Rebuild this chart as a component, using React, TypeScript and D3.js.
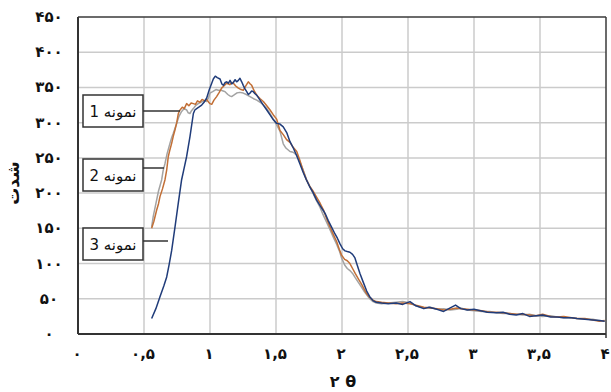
import React from "react";
import * as d3 from "d3";

const xTicks = [0, 0.5, 1, 1.5, 2, 2.5, 3, 3.5, 4];
const xTickLabels = ["۰", "۰,۵", "۱", "۱,۵", "۲", "۲,۵", "۳", "۳,۵", "۴"];
const yTicks = [0, 50, 100, 150, 200, 250, 300, 350, 400, 450];
const yTickLabels = ["۰", "۵۰", "۱۰۰", "۱۵۰", "۲۰۰", "۲۵۰", "۳۰۰", "۳۵۰", "۴۰۰", "۴۵۰"];
const xTitle = "۲ θ";
const yTitle = "شدت";
const seriesNames = ["نمونه 1", "نمونه 2", "نمونه 3"];

// sample 1 (orange)
const sample1: [number, number][] = [[0.558,150],[0.575,160],[0.596,176],[0.61,185],[0.621,195],[0.64,206],[0.659,219],[0.672,233],[0.684,252],[0.697,262],[0.71,271],[0.722,281],[0.735,290],[0.748,300],[0.76,313],[0.773,318],[0.79,322],[0.805,320],[0.823,327],[0.84,324],[0.857,328],[0.874,327],[0.89,326],[0.905,331],[0.924,329],[0.94,333],[0.96,331],[0.975,333],[0.99,329],[1.0,327],[1.013,326],[1.03,332],[1.05,337],[1.07,343],[1.088,349],[1.105,352],[1.126,356],[1.15,354],[1.165,357],[1.177,356],[1.195,352],[1.215,349],[1.235,347],[1.252,346],[1.27,352],[1.29,358],[1.305,355],[1.316,353],[1.335,345],[1.354,339],[1.38,334],[1.404,330],[1.43,324],[1.455,318],[1.48,311],[1.505,305],[1.53,289],[1.555,283],[1.58,276],[1.606,272],[1.63,265],[1.657,259],[1.68,247],[1.705,232],[1.73,219],[1.755,210],[1.78,203],[1.805,195],[1.833,186],[1.86,176],[1.885,163],[1.909,152],[1.935,141],[1.96,131],[1.98,120],[1.997,112],[2.02,106],[2.04,104],[2.06,100],[2.08,93],[2.1,86],[2.125,78],[2.15,70],[2.17,63],[2.187,57],[2.21,52],[2.235,48],[2.26,46],[2.3,45],[2.35,44],[2.41,43],[2.46,44],[2.515,43],[2.56,41],[2.62,38],[2.67,37],[2.72,36],[2.77,34],[2.82,35],[2.87,37],[2.9,36],[2.95,35],[3.0,34],[3.06,33],[3.12,31],[3.17,31],[3.22,30],[3.27,29],[3.32,28],[3.37,28],[3.42,27],[3.47,26],[3.52,28],[3.58,25],[3.63,24],[3.68,25],[3.74,23],[3.78,22],[3.84,22],[3.9,20],[3.95,18],[3.99,19]];

// sample 2 (gray)
const sample2: [number, number][] = [[0.558,152],[0.57,167],[0.59,185],[0.61,203],[0.634,219],[0.645,232],[0.659,242],[0.675,256],[0.697,271],[0.71,279],[0.722,285],[0.735,292],[0.748,299],[0.765,309],[0.785,316],[0.805,320],[0.823,318],[0.835,314],[0.848,313],[0.86,317],[0.874,320],[0.89,324],[0.911,327],[0.93,329],[0.955,331],[0.975,330],[0.99,336],[1.0,342],[1.02,344],[1.045,347],[1.063,346],[1.085,346],[1.1,345],[1.114,344],[1.135,340],[1.15,338],[1.164,337],[1.18,339],[1.202,342],[1.225,343],[1.252,342],[1.275,340],[1.303,337],[1.33,334],[1.354,332],[1.38,329],[1.404,325],[1.43,320],[1.455,313],[1.48,305],[1.505,297],[1.53,288],[1.555,270],[1.575,264],[1.606,259],[1.63,258],[1.657,254],[1.68,245],[1.705,233],[1.73,220],[1.755,210],[1.78,200],[1.805,190],[1.833,180],[1.86,168],[1.885,158],[1.909,148],[1.935,137],[1.96,127],[1.98,118],[1.997,108],[2.02,98],[2.04,93],[2.06,90],[2.08,86],[2.1,80],[2.125,73],[2.15,66],[2.17,60],[2.19,55],[2.21,50],[2.235,46],[2.26,44],[2.3,43],[2.35,44],[2.41,45],[2.46,46],[2.515,44],[2.56,40],[2.62,37],[2.67,38],[2.72,35],[2.77,36],[2.82,34],[2.87,35],[2.9,37],[2.95,34],[3.0,33],[3.06,32],[3.12,32],[3.17,30],[3.22,29],[3.27,29],[3.32,28],[3.37,27],[3.42,28],[3.47,26],[3.52,25],[3.58,26],[3.63,24],[3.68,23],[3.74,23],[3.78,22],[3.84,21],[3.9,21],[3.95,19],[3.99,18]];

// sample 3 (blue)
const sample3: [number, number][] = [[0.558,22],[0.59,36],[0.621,53],[0.65,68],[0.672,81],[0.69,98],[0.71,119],[0.735,152],[0.76,186],[0.785,219],[0.8,232],[0.823,252],[0.848,280],[0.874,313],[0.885,318],[0.899,320],[0.915,322],[0.937,325],[0.955,329],[0.975,335],[0.995,347],[1.013,356],[1.025,362],[1.04,366],[1.055,364],[1.076,362],[1.09,355],[1.101,353],[1.115,357],[1.126,358],[1.14,356],[1.152,360],[1.165,355],[1.177,357],[1.19,361],[1.202,358],[1.215,360],[1.227,363],[1.24,358],[1.252,353],[1.265,348],[1.278,344],[1.29,340],[1.303,342],[1.316,345],[1.328,344],[1.341,341],[1.354,339],[1.379,332],[1.404,325],[1.43,318],[1.455,311],[1.48,304],[1.505,299],[1.53,298],[1.555,294],[1.581,286],[1.606,273],[1.631,264],[1.657,253],[1.68,242],[1.707,229],[1.73,219],[1.758,208],[1.78,201],[1.808,190],[1.835,182],[1.859,175],[1.875,170],[1.896,161],[1.92,152],[1.947,142],[1.965,136],[1.985,128],[2.005,121],[2.023,118],[2.04,117],[2.06,116],[2.08,113],[2.098,108],[2.115,98],[2.136,86],[2.16,74],[2.187,61],[2.21,53],[2.237,47],[2.26,45],[2.3,44],[2.35,43],[2.41,44],[2.46,42],[2.515,46],[2.56,40],[2.62,36],[2.66,38],[2.72,35],[2.77,32],[2.82,37],[2.86,41],[2.9,36],[2.95,34],[3.0,35],[3.05,33],[3.1,31],[3.17,30],[3.22,31],[3.27,28],[3.32,27],[3.37,29],[3.42,25],[3.47,26],[3.52,27],[3.58,24],[3.63,24],[3.68,23],[3.74,23],[3.78,22],[3.84,21],[3.9,20],[3.95,19],[3.99,18]];

const W = 611;
const H = 392;
const left = 78, right = 606, top = 17, bottom = 334;
const FONT = "'DejaVu Sans', 'Noto Sans', sans-serif";

export default function App() {
  const x = d3.scaleLinear().domain([0, 4]).range([left, right]);
  const y = d3.scaleLinear().domain([0, 450]).range([bottom, top]);
  const line = d3
    .line<[number, number]>()
    .x((d) => x(d[0]))
    .y((d) => y(d[1]))
    .curve(d3.curveLinear);

  const series = [
    { data: sample2, color: "#a3a3a3" },
    { data: sample1, color: "#c26f36" },
    { data: sample3, color: "#203c7a" },
  ];

  const boxes = [
    { name: seriesNames[0], bx: 83, by: 95, bh: 32, ly: 111, lx: 180 },
    { name: seriesNames[1], bx: 83, by: 159, bh: 32, ly: 168, lx: 164 },
    { name: seriesNames[2], bx: 83, by: 228, bh: 32, ly: 241, lx: 168 },
  ];
  const bw = 60;

  return (
    <svg
      width={W}
      height={H}
      style={{ position: "absolute", left: 0, top: 0, background: "#fff" }}
    >
      <rect x={0} y={0} width={W} height={H} fill="#fff" />
      {/* grid */}
      {xTicks.slice(1, -1).map((t) => (
        <line key={"gx" + t} x1={x(t)} x2={x(t)} y1={top} y2={bottom} stroke="#cbcbcb" strokeWidth={1.5} />
      ))}
      {yTicks.slice(1, -1).map((t) => (
        <line key={"gy" + t} x1={left} x2={right} y1={y(t)} y2={y(t)} stroke="#cbcbcb" strokeWidth={1.5} />
      ))}
      {/* frame */}
      <line x1={left} x2={right} y1={top} y2={top} stroke="#3a3a3a" strokeWidth={1.5} />
      <line x1={right} x2={right} y1={top} y2={bottom} stroke="#3a3a3a" strokeWidth={1.5} />
      <line x1={left} x2={left} y1={top} y2={bottom} stroke="#333" strokeWidth={2} />
      <line x1={left} x2={right} y1={bottom} y2={bottom} stroke="#333" strokeWidth={2} />
      <line x1={right} x2={right} y1={bottom} y2={bottom + 4} stroke="#333" strokeWidth={1.5} />

      {/* series */}
      {series.map((s, i) => (
        <path key={i} d={line(s.data) || ""} fill="none" stroke={s.color} strokeWidth={1.5} strokeLinejoin="round" />
      ))}

      {/* legend boxes */}
      {boxes.map((b, i) => (
        <g key={"b" + i}>
          <line x1={b.bx + bw} x2={b.lx} y1={b.ly} y2={b.ly} stroke="#333" strokeWidth={1.5} />
          <rect x={b.bx} y={b.by} width={bw} height={b.bh} fill="#fff" stroke="#333" strokeWidth={1.5} />
          <text
            x={b.bx + bw / 2}
            y={b.by + b.bh / 2 + 5.5}
            textAnchor="middle"
            direction="rtl"
            fontFamily={FONT}
            fontSize={15}
            fill="#111"
          >
            {b.name}
          </text>
        </g>
      ))}

      {/* y tick labels */}
      {yTicks.map((t, i) => (
        <text key={"yl" + t} x={49} y={y(t) + 5} textAnchor="middle" fontFamily={FONT} fontWeight="bold" fontSize={15} fill="#111">
          {yTickLabels[i]}
        </text>
      ))}
      {/* x tick labels */}
      {xTicks.map((t, i) => (
        <text key={"xl" + t} x={x(t) - 1} y={359} textAnchor="middle" fontFamily={FONT} fontWeight="bold" fontSize={15} fill="#111">
          {xTickLabels[i]}
        </text>
      ))}
      <text x={343} y={387} textAnchor="middle" fontFamily={FONT} fontWeight="bold" fontSize={16} fill="#111">
        {xTitle}
      </text>
      <text
        transform={`translate(19,183) rotate(-90)`}
        textAnchor="middle"
        fontFamily={FONT}
        fontWeight="bold"
        fontSize={17}
        fill="#111"
      >
        {yTitle}
      </text>
    </svg>
  );
}
